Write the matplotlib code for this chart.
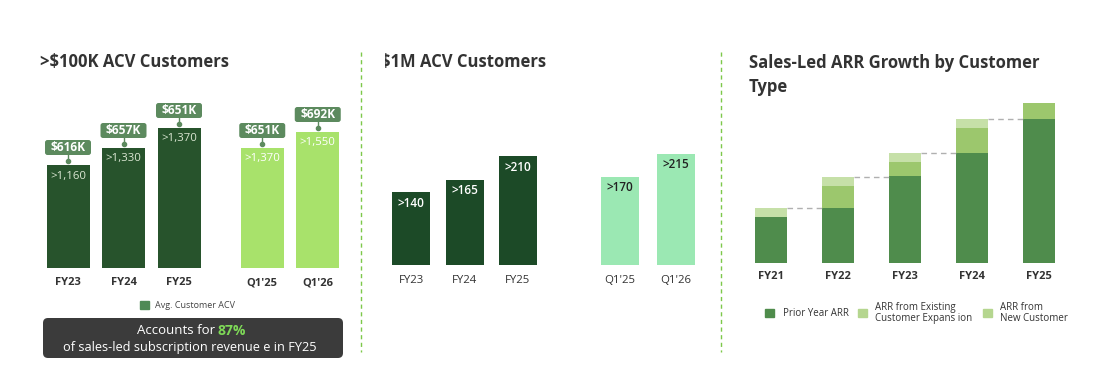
import matplotlib
matplotlib.use("Agg")
import matplotlib.pyplot as plt
from matplotlib.patches import Rectangle, FancyBboxPatch
from matplotlib.transforms import Bbox, TransformedBbox, IdentityTransform

# Data
periods = ["FY23", "FY24", "FY25", "Q1'25", "Q1'26"]
big_counts = [1160, 1330, 1370, 1370, 1550]          # >$100K ACV customers
big_heights = [103, 120, 140, 120, 136]              # bar heights as drawn
avg_acv = ["$616K", "$657K", "$651K", "$651K", "$692K"]
m_counts = [140, 165, 210, 170, 215]                 # >$1M ACV customers

arr_years = ["FY21", "FY22", "FY23", "FY24", "FY25"]
arr_prior = [46, 55, 87, 110, 144]
arr_expansion = [0, 22, 14, 25, 16]
arr_new = [9, 9, 9, 9, 0]

W, H = 1107, 392
TITLE_C = "#333333"
plt.rcParams["font.family"] = ["Open Sans", "DejaVu Sans"]

fig = plt.figure(figsize=(W / 100, H / 100), dpi=100)
fig.patch.set_facecolor("white")


def fx(x):
    return x / W


def fy(y):
    return 1 - y / H


def add_axes_px(x0, x1, y_top, y_base):
    ax = fig.add_axes([fx(x0), fy(y_base), (x1 - x0) / W, (y_base - y_top) / H])
    ax.set_facecolor("none")
    for s in ax.spines.values():
        s.set_visible(False)
    ax.tick_params(length=0)
    ax.set_yticks([])
    return ax


#### Panel 1 : >$100K ACV customers ####
ax1 = add_axes_px(30, 360, 40, 268)
sp1 = 55.5
ax1.set_xlim((30 - 68) / sp1, (360 - 68) / sp1)
ax1.set_ylim(0, 228)
x1 = [0, 1, 2, 3.5, 4.5]
c1 = ["#27532c"] * 3 + ["#a8e26b"] * 2
BOX_C = "#5c8a5e"
ax1.bar(x1, big_heights, width=43 / sp1, color=c1)
for i, (x, h) in enumerate(zip(x1, big_heights)):
    tc = "#dbe7d3" if i < 3 else "white"
    ax1.text(x, h - 11, ">{:,}".format(big_counts[i]), ha="center", va="center",
             color=tc, fontsize=8.2)
    ax1.plot([x, x], [h + 4, h + 10], color=BOX_C, lw=1)
    ax1.plot(x, h + 4, "o", color=BOX_C, ms=3)
    bw = 46 / sp1
    ax1.add_patch(FancyBboxPatch((x - bw / 2, h + 10), bw, 15,
                                 boxstyle="round,pad=0,rounding_size=%f" % (2.5 / sp1),
                                 mutation_aspect=sp1, fc=BOX_C, ec="none"))
    ax1.text(x, h + 17.5, avg_acv[i].replace("$", r"\$"), ha="center", va="center",
             color="white", fontsize=8.6, fontweight="bold")
ax1.set_xticks(x1)
ax1.set_xticklabels(periods, fontsize=8, fontweight="bold", color=TITLE_C)
ax1.tick_params(axis="x", pad=6.5)

fig.text(fx(40), fy(62), r">\$100K ACV Customers", ha="left", va="center",
         fontsize=12, fontweight="bold", color=TITLE_C)

# legend
fig.add_artist(Rectangle((fx(140), fy(309)), 9 / W, 8 / H, color="#4f8a55",
                         transform=fig.transFigure))
fig.text(fx(155), fy(305), "Avg. Customer ACV", ha="left", va="center",
         fontsize=6.5, color="#444444")

# dark call-out box
fig.add_artist(FancyBboxPatch((43, H - 358), 300, 40,
                              boxstyle="round,pad=0,rounding_size=5",
                              fc="#3b3b3b", ec="none", transform=IdentityTransform()))
fig.text(fx(215), fy(331), "Accounts for", ha="right", va="center",
         fontsize=9.5, color="white")
fig.text(fx(218), fy(331), "87%", ha="left", va="center",
         fontsize=10, fontweight="bold", color="#7ed957")
fig.text(fx(190), fy(348), "of sales-led subscription revenue e in FY25",
         ha="center", va="center", fontsize=9.2, color="white")

#### Panel 2 : >$1M ACV customers ####
ax2 = add_axes_px(365, 715, 40, 265)
sp2 = 53.5
px2 = 0.518
ax2.set_xlim((365 - 411) / sp2, (715 - 411) / sp2)
ax2.set_ylim(0, 225 / px2)
x2 = [0, 1, 2, 3.9, 4.95]
c2 = ["#1c4a27"] * 3 + ["#9be8b3"] * 2
ax2.bar(x2, m_counts, width=38 / sp2, color=c2)
for i, (x, v) in enumerate(zip(x2, m_counts)):
    tc = "white" if i < 3 else "#222222"
    ax2.text(x, v - 11 / px2, ">{}".format(v), ha="center", va="center",
             color=tc, fontsize=8.5, fontweight="semibold")
ax2.set_xticks(x2)
ax2.set_xticklabels(periods, fontsize=8.2, color=TITLE_C)
ax2.tick_params(axis="x", pad=7)

t2 = fig.text(fx(381), fy(62), r"\$1M ACV Customers", ha="left", va="center",
              fontsize=12, fontweight="bold", color=TITLE_C)
t2.set_clip_box(TransformedBbox(Bbox([[fx(384.5), 0], [1, 1]]), fig.transFigure))
t2.set_clip_on(True)

#### Panel 3 : Sales-led ARR growth ####
ax3 = add_axes_px(725, 1100, 40, 262.7)
sp3 = 66.9
ax3.set_xlim((725 - 771) / sp3, (1100 - 771) / sp3)
ax3.set_ylim(0, 222.7)
x3 = list(range(len(arr_years)))
bw3 = 32 / sp3
bottoms2 = [p + e for p, e in zip(arr_prior, arr_expansion)]
ax3.bar(x3, arr_prior, width=bw3, color="#4f8c4c")
ax3.bar(x3, arr_expansion, width=bw3, bottom=arr_prior, color="#9cc76d")
ax3.bar(x3, arr_new, width=bw3, bottom=bottoms2, color="#c6e0a8")
totals = [b + n for b, n in zip(bottoms2, arr_new)]
for i in range(len(x3) - 1):
    ax3.plot([x3[i] + bw3 / 2, x3[i + 1] - bw3 / 2], [totals[i], totals[i]],
             ls=(0, (4, 3)), color="#b0b0b0", lw=1)
ax3.set_xticks(x3)
ax3.set_xticklabels(arr_years, fontsize=8, fontweight="bold", color=TITLE_C)
ax3.tick_params(axis="x", pad=6)

fig.text(fx(749), fy(63), "Sales-Led ARR Growth by Customer", ha="left", va="center",
         fontsize=12, fontweight="bold", color=TITLE_C)
fig.text(fx(749), fy(87), "Type", ha="left", va="center",
         fontsize=12, fontweight="bold", color=TITLE_C)

leg_items = [(765, "#4f8c4c", 783, "Prior Year ARR"),
             (858, "#b5d68f", 875, "ARR from Existing\nCustomer Expans ion"),
             (983, "#b5d68f", 1000, "ARR from\nNew Customer")]
for sx, col, tx, lab in leg_items:
    fig.add_artist(Rectangle((fx(sx), fy(317)), 8.5 / W, 8.5 / H, color=col,
                             transform=fig.transFigure))
    fig.text(fx(tx), fy(313), lab, ha="left", va="center", fontsize=7,
             color="#333333", linespacing=1.05)

# dashed green dividers
for xd in (360.7, 721):
    fig.add_artist(plt.Line2D([fx(xd), fx(xd)], [fy(52), fy(352)], color="#7dc84a",
                              lw=1, ls=(0, (3, 2.5)), transform=fig.transFigure))

fig.savefig("out.png", dpi=100)
